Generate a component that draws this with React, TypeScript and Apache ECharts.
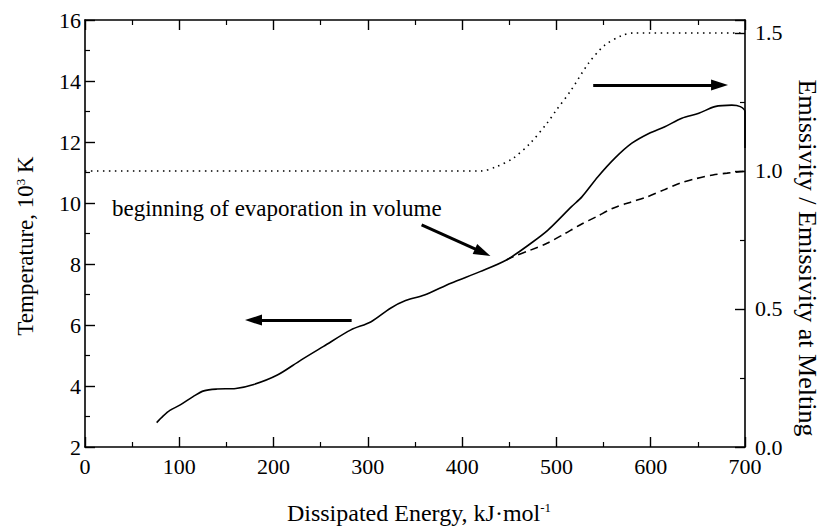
import React, { useEffect, useRef } from "react";
import * as echarts from "echarts";

// Solid curve: temperature (10^3 K) vs dissipated energy (kJ/mol)
const solidE = [76, 83, 90, 101, 115, 126, 140, 160, 179, 204, 229, 253, 282, 303, 324, 340, 360, 388, 419, 447, 473, 491, 516, 527, 544, 562, 580, 598, 615, 633, 651, 668, 686, 695, 700, 700];
const solidT = [2.8, 3.02, 3.2, 3.38, 3.66, 3.84, 3.9, 3.92, 4.05, 4.36, 4.85, 5.3, 5.84, 6.1, 6.55, 6.8, 6.98, 7.37, 7.75, 8.13, 8.68, 9.11, 9.88, 10.2, 10.86, 11.47, 11.96, 12.28, 12.5, 12.78, 12.94, 13.16, 13.21, 13.16, 12.99, 11.8];

// Dashed curve: temperature without evaporation correction
const dashedE = [447, 454, 472, 490, 508, 525, 543, 560, 578, 596, 614, 631, 648, 666, 681, 695, 700];
const dashedT = [8.13, 8.24, 8.45, 8.68, 8.98, 9.28, 9.56, 9.83, 10.02, 10.2, 10.43, 10.65, 10.8, 10.92, 10.98, 11.03, 11.04];

// Dotted curve: emissivity / emissivity at melting (right axis)
const dottedE = [0, 420, 436, 454, 472, 490, 500, 515, 534, 551, 569, 582, 700];
const dottedEps = [1.0, 1.0, 1.015, 1.046, 1.1, 1.173, 1.221, 1.29, 1.39, 1.455, 1.49, 1.5, 1.5];

// Annotation arrows [fromE, fromT, toE, toT] in left-axis data units
const leftArrow = [282.8, 6.16, 178.7, 6.16];
const rightArrow = [539, 13.87, 673, 13.87];
const noteArrow = [357, 9.28, 421.8, 8.38];

const xTicks = { min: 0, max: 700, interval: 100 };
const yLeftTicks = { min: 2, max: 16, interval: 2 };
const yRightTicks = { min: 0, max: 1.547, interval: 0.5 };

const noteText = "beginning of evaporation in volume";

const FONT = "Liberation Serif";

function zip(a: number[], b: number[]) {
  return a.map((v, i) => [v, b[i]]);
}

function arrowLine(a: number[]) {
  return [
    { coord: [a[0], a[1]], symbol: "none" },
    { coord: [a[2], a[3]], symbol: "triangle", symbolSize: [11, 17] },
  ];
}

function axisParts() {
  return {
    axisLine: { show: true, onZero: false, lineStyle: { color: "#000", width: 1.6 } },
    axisTick: { show: true, inside: true, length: 10, lineStyle: { color: "#000", width: 1.4 } },
    minorTick: { show: true, splitNumber: 2, length: 5, lineStyle: { color: "#000", width: 1.2 } },
    splitLine: { show: false },
    minorSplitLine: { show: false },
  };
}

function label(margin: number) {
  return { color: "#000", fontFamily: FONT, fontSize: 22, margin };
}

export default function App() {
  const ref = useRef<HTMLDivElement>(null);
  useEffect(() => {
    document.body.style.margin = "0";
    const chart = echarts.init(ref.current!, null, { renderer: "svg" });
    chart.setOption({
      animation: false,
      backgroundColor: "#fff",
      textStyle: { fontFamily: FONT },
      grid: { left: 85, right: 75, top: 20, bottom: 82, containLabel: false },
      xAxis: [
        {
          type: "value",
          position: "bottom",
          ...xTicks,
          ...axisParts(),
          axisLabel: label(8),
        },
        {
          type: "value",
          position: "top",
          ...xTicks,
          ...axisParts(),
          axisLabel: { show: false },
        },
      ],
      yAxis: [
        {
          type: "value",
          position: "left",
          ...yLeftTicks,
          ...axisParts(),
          axisLabel: label(4),
        },
        {
          type: "value",
          position: "right",
          ...yRightTicks,
          ...axisParts(),
          axisLabel: {
            ...label(10),
            showMaxLabel: false,
            formatter: (v: number) =>
              Math.abs(v * 2 - Math.round(v * 2)) < 1e-6 ? v.toFixed(1) : "",
          },
        },
      ],
      series: [
        {
          type: "line",
          name: "Temperature",
          xAxisIndex: 0,
          yAxisIndex: 0,
          data: zip(solidE, solidT),
          showSymbol: false,
          smooth: 0.3,
          lineStyle: { color: "#000", width: 1.6 },
          silent: true,
          markLine: {
            silent: true,
            animation: false,
            label: { show: false },
            lineStyle: { color: "#000", width: 3, type: "solid" },
            itemStyle: { color: "#000" },
            emphasis: { disabled: true },
            data: [arrowLine(leftArrow), arrowLine(rightArrow), arrowLine(noteArrow)],
          },
        },
        {
          type: "line",
          name: "Temperature (dashed)",
          xAxisIndex: 0,
          yAxisIndex: 0,
          data: zip(dashedE, dashedT),
          showSymbol: false,
          smooth: 0.3,
          lineStyle: { color: "#000", width: 1.6, type: [8, 5] },
          silent: true,
        },
        {
          type: "line",
          name: "Emissivity",
          xAxisIndex: 0,
          yAxisIndex: 1,
          data: zip(dottedE, dottedEps),
          showSymbol: false,
          smooth: 0.3,
          lineStyle: { color: "#000", width: 1.6, type: [1.5, 4.5] },
          silent: true,
        },
      ],
      graphic: [
        {
          type: "text",
          x: 112,
          y: 208,
          silent: true,
          style: { text: noteText, fontFamily: FONT, fontSize: 23, fill: "#000", align: "left", verticalAlign: "middle" },
        },
        {
          type: "text",
          x: 419,
          y: 513,
          silent: true,
          style: {
            text: "{a|Dissipated Energy, kJ·mol}{s|-1}",
            fill: "#000",
            align: "center",
            verticalAlign: "middle",
            rich: {
              a: { fontFamily: FONT, fontSize: 24, fill: "#000", verticalAlign: "bottom" },
              s: { fontFamily: FONT, fontSize: 13, fill: "#000", verticalAlign: "top" },
            },
          },
        },
        {
          type: "text",
          x: 25,
          y: 246,
          rotation: Math.PI / 2,
          silent: true,
          style: {
            text: "{a|Temperature, 10}{s|3}{a| K}",
            fill: "#000",
            align: "center",
            verticalAlign: "middle",
            rich: {
              a: { fontFamily: FONT, fontSize: 23, fill: "#000", verticalAlign: "bottom" },
              s: { fontFamily: FONT, fontSize: 13, fill: "#000", verticalAlign: "top" },
            },
          },
        },
        {
          type: "text",
          x: 807,
          y: 258,
          rotation: -Math.PI / 2,
          silent: true,
          style: {
            text: "Emissivity / Emissivity at Melting",
            fontFamily: FONT,
            fontSize: 26,
            fill: "#000",
            align: "center",
            verticalAlign: "middle",
          },
        },
      ],
    });
    return () => chart.dispose();
  }, []);
  return <div ref={ref} style={{ width: 820, height: 529 }} />;
}
